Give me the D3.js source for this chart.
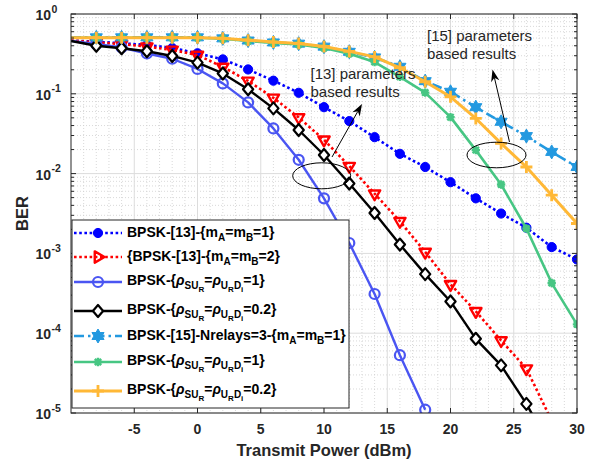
<!DOCTYPE html>
<html>
<head>
<meta charset="utf-8">
<script src="https://cdn.jsdelivr.net/npm/d3@7"></script>
<style>
  body { margin: 0; background: #fff; }
  svg { display: block; }
  text { font-family: "Liberation Sans", Arial, Helvetica, sans-serif; }
</style>
</head>
<body>
<svg id="chart" width="596" height="464"></svg>
<script>
// ---- data: BER versus transmit power ----
const powerDbm = [-10, -8, -6, -4, -2, 0, 2, 4, 6, 8, 10, 12, 14, 16, 18, 20, 22, 24, 26, 28, 30];

const berRef13M1 = [0.465, 0.45, 0.43, 0.41, 0.375, 0.322, 0.27, 0.202, 0.146, 0.103, 0.068, 0.0455, 0.0286, 0.0177, 0.0121, 0.0078, 0.0049, 0.00316, 0.0021, 0.0012, 0.00084];
const berRef13M2 = [0.465, 0.44, 0.42, 0.39, 0.355, 0.306, 0.217, 0.145, 0.089, 0.0505, 0.0265, 0.0124, 0.0056, 0.00253, 0.00104, 0.00041, 0.000188, 8.1e-5, 3.6e-5, 8e-6, 2e-6];
const berRho1 = [0.46, 0.42, 0.38, 0.32, 0.275, 0.205, 0.135, 0.078, 0.0368, 0.0149, 0.0049, 0.00135, 3.1e-4, 5.3e-5, 1.1e-5, null, null, null, null, null, null];
const berRho02 = [0.46, 0.40, 0.372, 0.341, 0.298, 0.246, 0.18, 0.114, 0.0656, 0.0352, 0.0171, 0.0075, 0.00321, 0.00129, 5.5e-4, 2.5e-4, 8.5e-5, 3.95e-5, 1.3e-5, 3.5e-6, 8e-7];
const berRef15Relays3 = [0.51, 0.51, 0.51, 0.51, 0.51, 0.51, 0.495, 0.465, 0.44, 0.425, 0.39, 0.336, 0.286, 0.218, 0.144, 0.106, 0.068, 0.0446, 0.0295, 0.0187, 0.0121];
const berRho1Ref15 = [0.505, 0.505, 0.505, 0.505, 0.505, 0.505, 0.49, 0.46, 0.435, 0.415, 0.375, 0.318, 0.25, 0.163, 0.1035, 0.051, 0.0197, 0.0073, 0.00205, 4.25e-4, 1.29e-4];
const berRho02Ref15 = [0.505, 0.505, 0.505, 0.505, 0.505, 0.505, 0.495, 0.47, 0.445, 0.428, 0.392, 0.34, 0.29, 0.212, 0.1415, 0.0917, 0.0491, 0.0239, 0.0121, 0.00536, 0.00237];

const seriesLabels = [
  "BPSK-[13]-\\{m_A=m_B=1\\}",
  "\\{BPSK-[13]-\\{m_A=m_B=2\\}",
  "BPSK-\\{\\rho_{SU_R}=\\rho_{U_RD_i}=1\\}",
  "BPSK-\\{\\rho_{SU_R}=\\rho_{U_RD_i}=0.2\\}",
  "BPSK-[15]-Nrelays=3-\\{m_A=m_B=1\\}",
  "BPSK-\\{\\rho_{SU_R}=\\rho_{U_RD_i}=1\\}",
  "BPSK-\\{\\rho_{SU_R}=\\rho_{U_RD_i}=0.2\\}"
];

const xTickValues = [-5, 0, 5, 10, 15, 20, 25, 30];
const yDecades = [-5, -4, -3, -2, -1, 0];
const annotationTexts = [["[13] parameters", "based results"], ["[15] parameters", "based results"]];

const xTitle = "Transmit Power (dBm)";
const yTitle = "BER";

// ---- styling per series ----
const styles = [
  { color: "#0000ff", dash: "2.6,2.6", width: 2.6, marker: "circle", size: 4.6, fill: "#0000ff", mw: 1 },
  { color: "#ff0000", dash: "2.6,2.6", width: 2.6, marker: "triDown", legendMarker: "triRight", size: 6.5, fill: "none", mw: 2.4 },
  { color: "#4a55f2", dash: null, width: 2.4, marker: "circle", size: 5, fill: "none", mw: 2.2 },
  { color: "#000000", dash: null, width: 2.4, marker: "diamond", size: 6, fill: "#ffffff", mw: 2.2 },
  { color: "#2399e0", dash: "10,4,2.5,4", width: 2.6, marker: "hexagram", size: 7, fill: "#2399e0", mw: 1 },
  { color: "#47c683", dash: null, width: 2.6, marker: "asterisk", size: 4.2, fill: "none", mw: 2.4 },
  { color: "#ffb836", dash: null, width: 3, marker: "plus", size: 6, fill: "none", mw: 2.8 }
];
const seriesValues = [berRef13M1, berRef13M2, berRho1, berRho02, berRef15Relays3, berRho1Ref15, berRho02Ref15];

// ---- layout ----
const W = 596, H = 464;
const plot = { left: 71, right: 577, top: 14, bottom: 413 };
const svg = d3.select("#chart");

const x = d3.scaleLinear().domain([-10, 30]).range([plot.left, plot.right]);
const y = d3.scaleLog().domain([1e-5, 1]).range([plot.bottom, plot.top]);

svg.append("rect").attr("width", W).attr("height", H).attr("fill", "#fff");

svg.append("defs").append("clipPath").attr("id", "plotClip")
  .append("rect")
  .attr("x", plot.left).attr("y", plot.top)
  .attr("width", plot.right - plot.left).attr("height", plot.bottom - plot.top);

// ---- grid ----
const grid = svg.append("g");
const xMinor = d3.range(-10, 31, 1).filter(v => v % 5 !== 0);
const yMinor = [];
yDecades.slice(0, -1).forEach(k => { for (let m = 2; m <= 9; m++) yMinor.push(m * Math.pow(10, k)); });

grid.selectAll(".xminor").data(xMinor).join("line")
  .attr("x1", d => x(d)).attr("x2", d => x(d))
  .attr("y1", plot.top).attr("y2", plot.bottom)
  .attr("stroke", "#cfcfcf").attr("stroke-width", 0.8).attr("stroke-dasharray", "1,2");
grid.selectAll(".yminor").data(yMinor).join("line")
  .attr("x1", plot.left).attr("x2", plot.right)
  .attr("y1", d => y(d)).attr("y2", d => y(d))
  .attr("stroke", "#cfcfcf").attr("stroke-width", 0.8).attr("stroke-dasharray", "1,2");
grid.selectAll(".xmajor").data(xTickValues).join("line")
  .attr("x1", d => x(d)).attr("x2", d => x(d))
  .attr("y1", plot.top).attr("y2", plot.bottom)
  .attr("stroke", "#dcdcdc").attr("stroke-width", 1);
grid.selectAll(".ymajor").data(yDecades).join("line")
  .attr("x1", plot.left).attr("x2", plot.right)
  .attr("y1", d => y(Math.pow(10, d))).attr("y2", d => y(Math.pow(10, d)))
  .attr("stroke", "#dcdcdc").attr("stroke-width", 1);

// ---- marker shapes ----
function markerPath(type, s) {
  const p = d3.path();
  if (type === "circle") {
    p.moveTo(s, 0); p.arc(0, 0, s, 0, 2 * Math.PI); p.closePath();
  } else if (type === "triDown" || type === "triRight") {
    const base = type === "triDown" ? Math.PI / 2 : 0;
    for (let i = 0; i < 3; i++) {
      const a = base + i * 2 * Math.PI / 3;
      const px = s * Math.cos(a), py = s * Math.sin(a);
      if (i === 0) p.moveTo(px, py); else p.lineTo(px, py);
    }
    p.closePath();
  } else if (type === "diamond") {
    p.moveTo(0, -s); p.lineTo(s * 0.85, 0); p.lineTo(0, s); p.lineTo(-s * 0.85, 0); p.closePath();
  } else if (type === "hexagram") {
    const r2 = s / Math.sqrt(3);
    for (let i = 0; i < 12; i++) {
      const a = -Math.PI / 2 + i * Math.PI / 6;
      const r = i % 2 === 0 ? s : r2;
      const px = r * Math.cos(a), py = r * Math.sin(a);
      if (i === 0) p.moveTo(px, py); else p.lineTo(px, py);
    }
    p.closePath();
  } else if (type === "plus") {
    p.moveTo(-s, 0); p.lineTo(s, 0); p.moveTo(0, -s); p.lineTo(0, s);
  } else if (type === "asterisk") {
    p.moveTo(-s, 0); p.lineTo(s, 0); p.moveTo(0, -s); p.lineTo(0, s);
    const d = s * 0.75;
    p.moveTo(-d, -d); p.lineTo(d, d); p.moveTo(-d, d); p.lineTo(d, -d);
  }
  return p.toString();
}

// ---- series ----
const plotArea = svg.append("g").attr("clip-path", "url(#plotClip)");
const lineGen = d3.line()
  .defined(d => d.v !== null && d.v > 0)
  .x(d => x(d.p))
  .y(d => y(d.v));

seriesValues.forEach((vals, i) => {
  const st = styles[i];
  const pts = powerDbm.map((p, j) => ({ p, v: vals[j] }));
  const g = plotArea.append("g");
  g.append("path").datum(pts)
    .attr("d", lineGen)
    .attr("fill", "none")
    .attr("stroke", st.color)
    .attr("stroke-width", st.width)
    .attr("stroke-linejoin", "round")
    .attr("stroke-dasharray", st.dash);
  // markers start at the second sample
  g.selectAll("path.mk")
    .data(pts.filter((d, j) => j > 0 && d.v !== null && d.v >= 1e-5 * 0.97))
    .join("path")
    .attr("class", "mk")
    .attr("transform", d => `translate(${x(d.p)},${y(d.v)})`)
    .attr("d", markerPath(st.marker, st.size))
    .attr("fill", st.fill)
    .attr("stroke", st.color)
    .attr("stroke-width", st.mw)
    .attr("stroke-linejoin", "round");
});

// ---- axes box and ticks ----
const axisColor = "#262626";
const axes = svg.append("g");
axes.append("rect")
  .attr("x", plot.left).attr("y", plot.top)
  .attr("width", plot.right - plot.left).attr("height", plot.bottom - plot.top)
  .attr("fill", "none").attr("stroke", axisColor).attr("stroke-width", 1);

const tickLen = 5, minorLen = 3;
xTickValues.forEach(v => {
  axes.append("line").attr("x1", x(v)).attr("x2", x(v)).attr("y1", plot.bottom).attr("y2", plot.bottom - tickLen).attr("stroke", axisColor);
  axes.append("line").attr("x1", x(v)).attr("x2", x(v)).attr("y1", plot.top).attr("y2", plot.top + tickLen).attr("stroke", axisColor);
});
yDecades.forEach(k => {
  const yy = y(Math.pow(10, k));
  axes.append("line").attr("x1", plot.left).attr("x2", plot.left + tickLen).attr("y1", yy).attr("y2", yy).attr("stroke", axisColor);
  axes.append("line").attr("x1", plot.right).attr("x2", plot.right - tickLen).attr("y1", yy).attr("y2", yy).attr("stroke", axisColor);
});
yMinor.forEach(v => {
  const yy = y(v);
  axes.append("line").attr("x1", plot.left).attr("x2", plot.left + minorLen).attr("y1", yy).attr("y2", yy).attr("stroke", axisColor);
  axes.append("line").attr("x1", plot.right).attr("x2", plot.right - minorLen).attr("y1", yy).attr("y2", yy).attr("stroke", axisColor);
});

// tick labels
axes.selectAll(".xlab").data(xTickValues).join("text")
  .attr("x", d => x(d)).attr("y", plot.bottom + 21)
  .attr("text-anchor", "middle")
  .attr("font-size", 14).attr("font-weight", "bold").attr("fill", axisColor)
  .text(d => d);

yDecades.forEach(k => {
  const yy = y(Math.pow(10, k));
  axes.append("text")
    .attr("x", 51).attr("y", yy + 6)
    .attr("text-anchor", "end")
    .attr("font-size", 14).attr("font-weight", "bold").attr("fill", axisColor)
    .text("10");
  axes.append("text")
    .attr("x", 51.5).attr("y", yy - 1.5)
    .attr("text-anchor", "start")
    .attr("font-size", 10.5).attr("font-weight", "bold").attr("fill", axisColor)
    .text(String(k));
});

// axis titles
svg.append("text")
  .attr("x", (plot.left + plot.right) / 2).attr("y", 456)
  .attr("text-anchor", "middle")
  .attr("font-size", 16.5).attr("font-weight", "bold").attr("fill", axisColor)
  .text(xTitle);
svg.append("text")
  .attr("transform", `translate(28,${(plot.top + plot.bottom) / 2}) rotate(-90)`)
  .attr("text-anchor", "middle")
  .attr("font-size", 16.5).attr("font-weight", "bold").attr("fill", axisColor)
  .text(yTitle);

// ---- legend ----
// small parser for _x, _{...}, \rho and \{ \}
function parseTex(str) {
  const out = [];
  let i = 0;
  function readGroup(level) {
    const segs = [];
    while (i < str.length) {
      const c = str[i];
      if (c === "}") { i++; return segs; }
      if (c === "\\") {
        if (str.startsWith("\\rho", i)) { segs.push({ t: "\u03c1", level, it: true }); i += 4; continue; }
        segs.push({ t: str[i + 1], level }); i += 2; continue;
      }
      if (c === "_") {
        i++;
        if (str[i] === "{") { i++; segs.push(...readGroup(level + 1)); }
        else { segs.push({ t: str[i], level: level + 1 }); i++; }
        continue;
      }
      if (c === "{") { i++; segs.push(...readGroup(level)); continue; }
      segs.push({ t: c, level }); i++;
    }
    return segs;
  }
  const segs = readGroup(0);
  segs.forEach(s => {
    const last = out[out.length - 1];
    if (last && last.level === s.level && !!last.it === !!s.it) last.t += s.t;
    else out.push({ ...s });
  });
  return out;
}

const legend = svg.append("g");
const lg = { x0: 72, x1: 349, y0: 220, y1: 408 };
legend.append("rect")
  .attr("x", lg.x0).attr("y", lg.y0)
  .attr("width", lg.x1 - lg.x0).attr("height", lg.y1 - lg.y0)
  .attr("fill", "#fff").attr("stroke", axisColor).attr("stroke-width", 1);

const rowY = [233, 257, 282, 311, 336, 362, 391];
const levelSize = [14, 10, 8];
const levelShift = [0, 4, 7];
seriesLabels.forEach((label, i) => {
  const st = styles[i];
  const yy = rowY[i];
  legend.append("line")
    .attr("x1", 74).attr("x2", 122).attr("y1", yy).attr("y2", yy)
    .attr("stroke", st.color).attr("stroke-width", st.width)
    .attr("stroke-dasharray", st.dash);
  legend.append("path")
    .attr("transform", `translate(98,${yy})`)
    .attr("d", markerPath(st.legendMarker || st.marker, st.size))
    .attr("fill", st.fill).attr("stroke", st.color)
    .attr("stroke-width", st.mw).attr("stroke-linejoin", "round");
  const segs = parseTex(label);
  const nested = segs.some(s => s.level > 1);
  const t = legend.append("text")
    .attr("x", 127).attr("y", yy + (nested ? 3 : 4))
    .attr("font-weight", "bold").attr("fill", "#000");
  let cur = 0;
  segs.forEach(s => {
    const shift = levelShift[s.level];
    t.append("tspan")
      .attr("dy", shift - cur)
      .attr("font-size", levelSize[s.level])
      .attr("font-style", s.it ? "italic" : null)
      .text(s.t);
    cur = shift;
  });
});

// ---- annotations ----
const ann = svg.append("g");
const arrowHead = (g, x1, y1, x2, y2) => {
  const a = Math.atan2(y2 - y1, x2 - x1);
  const L = 12, Wd = 4.2;
  const bx = x2 - L * Math.cos(a), by = y2 - L * Math.sin(a);
  const px = -Math.sin(a) * Wd, py = Math.cos(a) * Wd;
  const ix = x2 - L * 0.7 * Math.cos(a), iy = y2 - L * 0.7 * Math.sin(a);
  g.append("line").attr("x1", x1).attr("y1", y1).attr("x2", ix).attr("y2", iy)
    .attr("stroke", "#000").attr("stroke-width", 1);
  g.append("path")
    .attr("d", `M${x2},${y2} L${bx + px},${by + py} L${ix},${iy} L${bx - px},${by - py} Z`)
    .attr("fill", "#000");
};

ann.append("ellipse").attr("cx", 321.7).attr("cy", 175.8).attr("rx", 29).attr("ry", 13)
  .attr("fill", "none").attr("stroke", "#000").attr("stroke-width", 1);
arrowHead(ann, 332, 157, 362, 104);
ann.append("ellipse").attr("cx", 496.5).attr("cy", 155).attr("rx", 29.5).attr("ry", 12.8)
  .attr("fill", "none").attr("stroke", "#000").attr("stroke-width", 1);
arrowHead(ann, 509.5, 142, 492.5, 69.5);

const annPos = [[310.5, 79], [427, 40.5]];
annotationTexts.forEach((lines, i) => {
  lines.forEach((ln, j) => {
    ann.append("text")
      .attr("x", annPos[i][0]).attr("y", annPos[i][1] + j * 18)
      .attr("font-size", 15).attr("fill", "#262626")
      .text(ln);
  });
});
</script>
</body>
</html>
